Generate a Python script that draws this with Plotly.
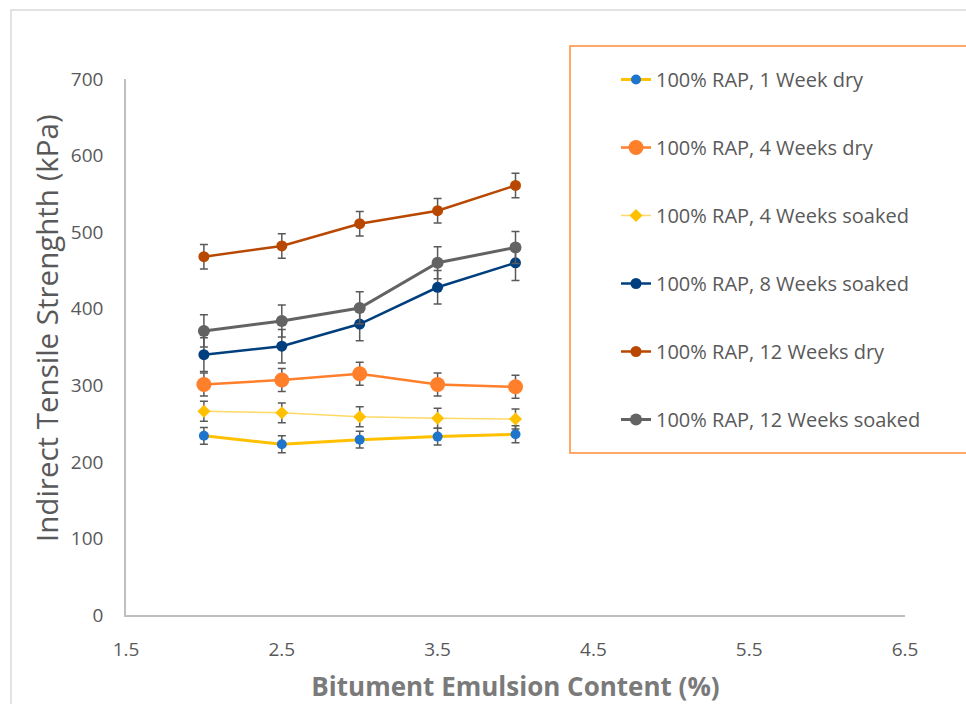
import plotly.graph_objects as go

# ---- data ----
bitumen_content = [2.0, 2.5, 3.0, 3.5, 4.0]

names = [
    "100% RAP, 1 Week dry",
    "100% RAP, 4 Weeks dry",
    "100% RAP, 4 Weeks soaked",
    "100% RAP, 8 Weeks soaked",
    "100% RAP, 12 Weeks dry",
    "100% RAP, 12 Weeks soaked",
]

its_1wk_dry = [234, 223, 229, 233, 236]
its_4wk_dry = [301, 307, 315, 301, 298]
its_4wk_soaked = [266, 264, 259, 257, 256]
its_8wk_soaked = [340, 351, 380, 428, 460]
its_12wk_dry = [468, 482, 511, 528, 561]
its_12wk_soaked = [371, 384, 401, 460, 480]

err_1wk_dry = [11, 11, 11, 11, 11]
err_4wk_dry = [15, 15, 15, 15, 15]
err_4wk_soaked = [13, 13, 13, 13, 13]
err_8wk_soaked = [22, 22, 22, 22, 23]
err_12wk_dry = [16, 16, 16, 16, 16]
err_12wk_soaked = [21, 21, 21, 21, 21]

x_ticks = [1.5, 2.5, 3.5, 4.5, 5.5, 6.5]
y_ticks = [0, 100, 200, 300, 400, 500, 600, 700]

x_title = "Bitument Emulsion Content (%)"
y_title = "Indirect Tensile Strenghth (kPa)"

# ---- styling ----
W, H = 966, 704
L, R, T, B = 126, 905, 79, 615  # plot area pixels

def px(xp):
    return (xp - L) / (R - L)

def py(yp):
    return (B - yp) / (B - T)

FONT = "Open Sans"
TXT = "#595959"
ERR = "#5a5a5a"

series = [
    (its_1wk_dry, err_1wk_dry, "#FFC000", 3, dict(symbol="circle", size=10, color="#1F75CC")),
    (its_4wk_dry, err_4wk_dry, "#FF7F2A", 2.5, dict(symbol="circle", size=15, color="#FF7F2A")),
    (its_4wk_soaked, err_4wk_soaked, "#FFD966", 1.5, dict(symbol="diamond", size=10, color="#FFC000")),
    (its_8wk_soaked, err_8wk_soaked, "#003F7D", 2.5, dict(symbol="circle", size=11, color="#003F7D")),
    (its_12wk_dry, err_12wk_dry, "#B84700", 2.5, dict(symbol="circle", size=11, color="#B84700")),
    (its_12wk_soaked, err_12wk_soaked, "#636363", 3, dict(symbol="circle", size=12, color="#636363")),
]

fig = go.Figure()
for i, (vals, errs, lc, lw, mk) in enumerate(series):
    fig.add_trace(go.Scatter(
        x=bitumen_content, y=vals, name=names[i], mode="lines+markers",
        line=dict(color=lc, width=lw), marker=mk,
        error_y=dict(type="data", array=errs, visible=True, color=ERR,
                     thickness=1.5, width=4),
        legendgroup=str(i),
    ))

fig.update_layout(
    width=W, height=H,
    margin=dict(l=L, r=W - R, t=T, b=H - B, autoexpand=False),
    paper_bgcolor="white", plot_bgcolor="white",
    font=dict(family=FONT, color=TXT),
    showlegend=True,
    legend=dict(
        x=px(616), y=py(60), xanchor="left", yanchor="top",
        font=dict(family=FONT, size=20, color=TXT),
        traceorder="grouped", tracegroupgap=39, maxheight=680,
        bgcolor="rgba(0,0,0,0)", borderwidth=0,
    ),
    xaxis=dict(
        range=[1.5, 6.5], tickvals=x_ticks, ticktext=[str(v) for v in x_ticks],
        showgrid=False, zeroline=False, showline=True, linecolor="#bfbfbf", linewidth=1.5,
        ticks="", ticklabelstandoff=16, automargin=False,
        tickfont=dict(family=FONT, size=19, color=TXT),
        title=dict(text="<b>" + x_title + "</b>", standoff=18,
                   font=dict(family=FONT, size=26, color="#7a7a7a")),
    ),
    yaxis=dict(
        range=[0, 700], tickvals=y_ticks,
        showgrid=False, zeroline=False, showline=True, linecolor="#bfbfbf", linewidth=1.5,
        ticks="", ticklabelstandoff=17, automargin=False,
        tickfont=dict(family=FONT, size=19, color=TXT),
    ),
    annotations=[
        dict(text=y_title, textangle=-90, xref="paper", yref="paper",
             x=px(46), y=py(328), xanchor="center", yanchor="middle",
             showarrow=False, font=dict(family=FONT, size=29.5, color=TXT)),
    ],
    shapes=[
        dict(type="rect", xref="paper", yref="paper",
             x0=px(11), x1=px(1000), y0=py(760), y1=py(10),
             line=dict(color="#d9d9d9", width=1.5), layer="below"),
        dict(type="rect", xref="paper", yref="paper",
             x0=px(570), x1=px(1000), y0=py(453), y1=py(46),
             line=dict(color="#FF8C3A", width=1.5), fillcolor="white", layer="below"),
    ],
)

fig.write_html("out.html")
